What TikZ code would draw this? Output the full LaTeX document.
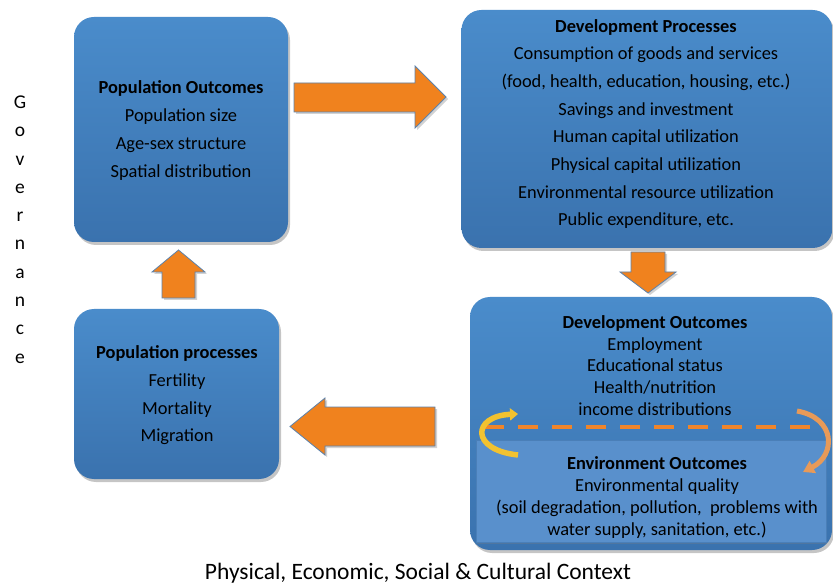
\documentclass[tikz,border=0pt]{standalone}
\usepackage{fontspec}
\setmainfont{Carlito}
\usetikzlibrary{shadows,arrows.meta}
\definecolor{boxtop}{HTML}{4A8CCB}
\definecolor{boxbot}{HTML}{3A72AE}
\definecolor{envbox}{HTML}{5990CC}
\definecolor{envedge}{HTML}{4A7FB8}
\definecolor{arrorange}{HTML}{F0821E}
\definecolor{arredge}{HTML}{5C82AC}
\definecolor{dashor}{HTML}{F0852A}
\definecolor{curveyel}{HTML}{F2C230}
\definecolor{curveor}{HTML}{E89A58}
\tikzset{
  box/.style={rounded corners=20pt, top color=boxtop, bottom color=boxbot, draw=none,
    drop shadow={shadow xshift=2pt, shadow yshift=-3pt, opacity=0.45},
    align=center, text=black},
  blockarrow/.style={fill=arrorange, draw=arredge, line width=0.8pt, line join=miter,
    drop shadow={shadow xshift=2pt, shadow yshift=-2pt, opacity=0.35}},
  txt/.style={align=center, text=black, inner sep=0pt},
}
\begin{document}
\begin{tikzpicture}[x=1pt,y=-1pt]
\useasboundingbox[fill=white] (0,0) rectangle (833,585);
% boxes
\node[box, minimum width=214pt, minimum height=225pt] (po) at (181,129.5) {};
\node[box, minimum width=371pt, minimum height=238pt] (dp) at (647,129) {};
\node[box, minimum width=205pt, minimum height=170pt] (pp) at (176.5,394) {};
\node[box, minimum width=362pt, minimum height=253pt] (do) at (651,423.5) {};
\node[draw=envedge, line width=0.6pt, fill=envbox, minimum width=350pt, minimum height=102pt,
  drop shadow={shadow xshift=1pt, shadow yshift=-2pt, opacity=0.3}] (eo) at (651,491) {};
% texts
\node[txt, font=\fontsize{18.4}{28}\selectfont] (pot) at (181,131)
  {\textbf{Population Outcomes}\\Population size\\Age-sex structure\\Spatial distribution};
\node[txt, font=\fontsize{18.4}{27.7}\selectfont] (dpt) at (646,124)
  {\textbf{Development Processes}\\Consumption of goods and services\\(food, health, education, housing, etc.)\\Savings and investment\\Human capital utilization\\Physical capital utilization\\Environmental resource utilization\\Public expenditure, etc.};
\node[txt, font=\fontsize{18.4}{27.7}\selectfont] (ppt) at (177,395.5)
  {\textbf{Population processes}\\Fertility\\Mortality\\Migration};
\node[txt, font=\fontsize{18.4}{21.8}\selectfont] (dot) at (655,365.5)
  {\textbf{Development Outcomes}\\Employment\\Educational status\\Health/nutrition\\income distributions};
\node[txt, font=\fontsize{18.4}{22.3}\selectfont] (eot) at (657,497.5)
  {\textbf{Environment Outcomes}\\Environmental quality\\(soil degradation, pollution,\ \ problems with\\water supply, sanitation, etc.)};
% governance
\node[txt, font=\fontsize{19.5}{28.3}\selectfont] (gov) at (20,229.5)
  {G\\o\\v\\e\\r\\n\\a\\n\\c\\e};
\node[txt, font=\fontsize{23.5}{26}\selectfont] (ctx) at (418,573)
  {Physical, Economic, Social \& Cultural Context};
% block arrows
\draw[blockarrow] (294,83) -- (415,83) -- (415,66) -- (446,97) -- (415,128) -- (415,112) -- (294,112) -- cycle;
\draw[blockarrow] (631,252) -- (665,252) -- (665,272) -- (676,272) -- (648,293) -- (620,272) -- (631,272) -- cycle;
\draw[blockarrow] (162,298) -- (162,272) -- (152,272) -- (178.5,250) -- (205,272) -- (195,272) -- (195,298) -- cycle;
\draw[blockarrow] (435,407) -- (325,407) -- (325,398) -- (290,426.5) -- (325,455) -- (325,446) -- (435,446) -- cycle;
% dashed line and curved arrows
\coordinate (dl) at (484,427);
\coordinate (dr) at (822,427);
\draw[dashor, line width=3.5pt, dash pattern=on 20pt off 14pt] (dl) -- (dr);
\coordinate (ys) at (518,455);
\coordinate (ye) at (518,414);
\draw[curveyel, line width=5.5pt, -{Triangle[length=8pt,width=12pt]}] (ys) .. controls (470,450) and (472,416) .. (ye);
\coordinate (os) at (797,411);
\coordinate (oe) at (803,472);
\draw[curveor, line width=5pt, -{Triangle[length=11pt,width=13pt]}] (os) .. controls (836,418) and (836,455) .. (oe);
\end{tikzpicture}
\end{document}
